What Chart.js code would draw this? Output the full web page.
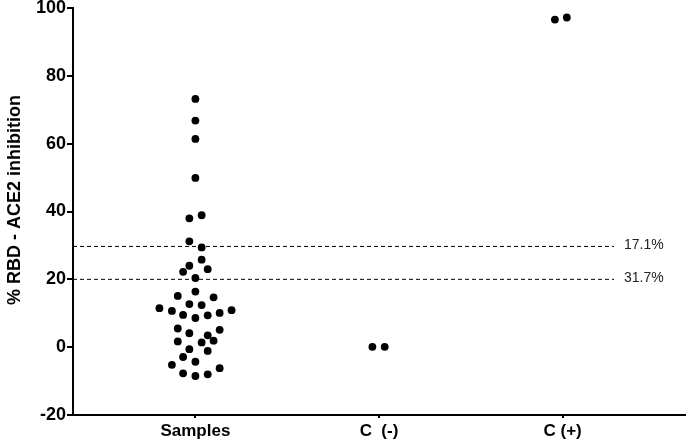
<!DOCTYPE html>
<html>
<head>
<meta charset="utf-8">
<script src="https://cdn.jsdelivr.net/npm/chart.js@4.4.1/dist/chart.umd.min.js"></script>
<style>
  html, body { margin: 0; padding: 0; background: #fff; }
  #wrap { width: 689px; height: 443px; }
</style>
</head>
<body>
<div id="wrap"><canvas id="chart"></canvas></div>
<script>
// groups on the x axis
var groupNames = ['Samples', 'C  (-)', 'C (+)'];
var yTitle = '% RBD - ACE2 inhibition';

// % inhibition per sample, with its spread offset inside the group column
var sampleValues = [73.2, 66.8, 61.4, 49.9, 38.0, 38.9, 31.2, 29.4, 25.8, 24.0, 22.2, 23.0, 20.4,
  16.4, 15.1, 14.7, 12.7, 12.4, 11.5, 10.7, 10.9, 9.5, 8.6, 9.4, 10.1, 5.5, 5.1, 4.1, 3.5,
  1.7, 1.4, 1.9, -0.6, -1.1, -2.9, -4.3, -5.2, -6.2, -7.7, -8.5, -8.0];
var sampleSpread = [0, 0, 0, 0, -0.033, 0.034, -0.033, 0.034, 0.034, -0.033, -0.067, 0.067, 0,
  0, -0.096, 0.099, -0.033, 0.034, -0.196, -0.128, 0.197, -0.067, 0, 0.067, 0.132, -0.096, 0.132, -0.033, 0.067,
  -0.096, 0.034, 0.099, -0.033, 0.067, -0.067, 0, -0.128, 0.132, -0.067, 0, 0.067];

var negValues = [0.1, 0.1];
var negSpread = [-0.036, 0.031];

var posValues = [96.6, 97.2];
var posSpread = [-0.042, 0.023];

// cut-off lines and their labels
var cutoffValues = [29.7, 20.0];
var cutoffLabels = ['17.1%', '31.7%'];

function toPoints(group, values, spread) {
  return values.map(function(v, i) { return { x: group + spread[i], y: v }; });
}

var FONT = '"Liberation Sans", Arial, sans-serif';
var xMin = 1 / 3, xMax = 11 / 3, lineEnd = 3.28;

var datasets = [
  { type: 'scatter', data: toPoints(1, sampleValues, sampleSpread) },
  { type: 'scatter', data: toPoints(2, negValues, negSpread) },
  { type: 'scatter', data: toPoints(3, posValues, posSpread) }
].map(function(d) {
  d.backgroundColor = '#000';
  d.borderColor = '#000';
  d.pointRadius = 3.9;
  d.borderWidth = 0;
  return d;
});

cutoffValues.forEach(function(v) {
  datasets.push({
    type: 'line',
    data: [{ x: xMin, y: v }, { x: lineEnd, y: v }],
    borderColor: '#000',
    borderWidth: 1,
    borderDash: [4, 3],
    pointRadius: 0
  });
});

var extraText = {
  id: 'extraText',
  afterDatasetsDraw: function(chart) {
    var ctx = chart.ctx, xs = chart.scales.x, ys = chart.scales.y;
    ctx.save();
    ctx.fillStyle = '#222';
    ctx.font = '14px ' + FONT;
    ctx.textBaseline = 'middle';
    cutoffValues.forEach(function(v, i) {
      ctx.fillText(cutoffLabels[i], xs.getPixelForValue(lineEnd) + 10, ys.getPixelForValue(v) - 1);
    });
    // y axis title, rotated
    ctx.translate(15, 200);
    ctx.rotate(-Math.PI / 2);
    ctx.textAlign = 'center';
    ctx.fillStyle = '#000';
    ctx.font = 'bold 18px ' + FONT;
    ctx.fillText(yTitle, 0, 0);
    ctx.restore();
  }
};

new Chart(document.getElementById('chart'), {
  data: { datasets: datasets },
  options: {
    responsive: true,
    maintainAspectRatio: false,
    animation: false,
    layout: { padding: { top: 8, right: 0, left: 0, bottom: 0 } },
    plugins: { legend: { display: false }, tooltip: { enabled: false } },
    scales: {
      x: {
        type: 'linear',
        min: xMin,
        max: xMax,
        afterBuildTicks: function(scale) {
          scale.ticks = groupNames.map(function(n, i) { return { value: i + 1 }; });
        },
        afterFit: function(scale) { scale.height = 28; },
        border: { display: true, color: '#000', width: 2 },
        grid: { drawOnChartArea: false, drawTicks: true, tickLength: 3, tickColor: '#000', lineWidth: 2 },
        ticks: {
          padding: 3,
          color: '#000',
          maxRotation: 0,
          font: { family: FONT, size: 17, weight: 'bold' },
          callback: function(v) { return groupNames[Math.round(v) - 1]; }
        }
      },
      y: {
        min: -20,
        max: 100,
        afterFit: function(scale) {
          scale.width = 73;
          scale.paddingTop = 0;
          scale.paddingBottom = 0;
        },
        border: { display: true, color: '#000', width: 2 },
        grid: { drawOnChartArea: false, drawTicks: true, tickLength: 6, tickColor: '#000', lineWidth: 2 },
        ticks: {
          stepSize: 20,
          padding: 1,
          color: '#000',
          font: { family: FONT, size: 18, weight: 'bold' }
        }
      }
    }
  },
  plugins: [extraText]
});
</script>
</body>
</html>
